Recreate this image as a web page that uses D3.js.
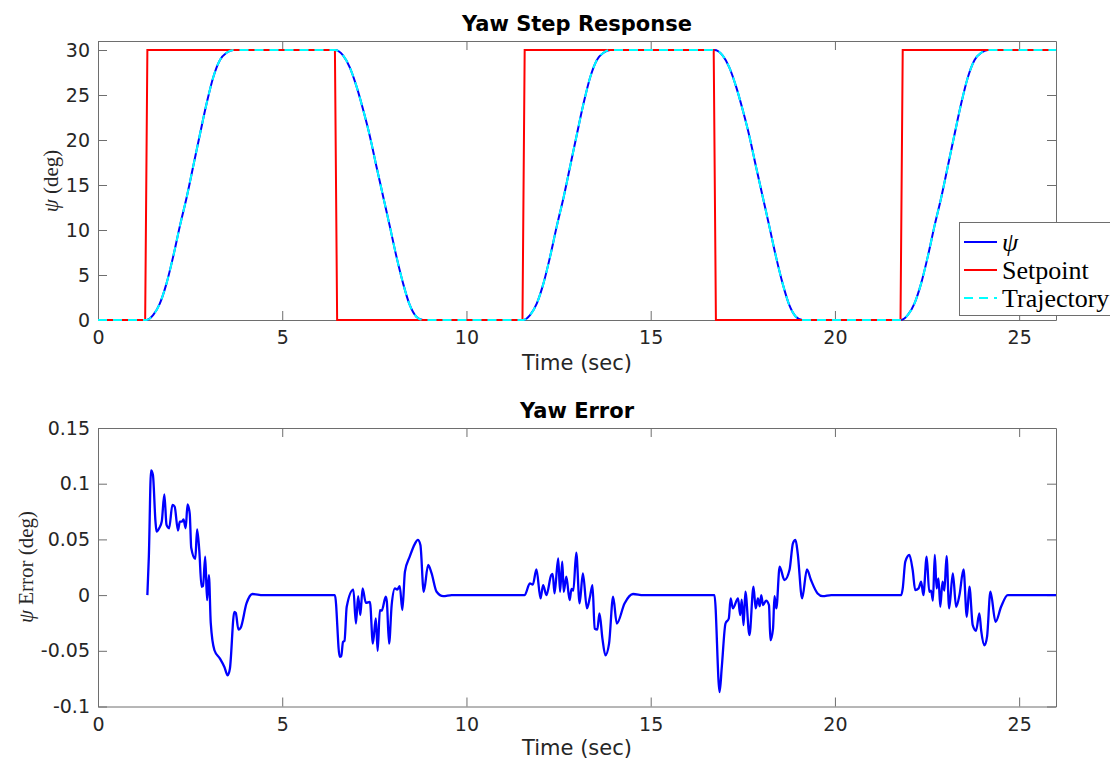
<!DOCTYPE html>
<html lang="en">
  <head>
    <meta charset="utf-8">
    <title>Yaw Step Response</title>
    <script src="https://d3js.org/d3.v7.min.js"></script>
    <style>
      body { margin: 0; background: #fff; }
    </style>
  </head>
  <body>
    <script>

    // setpoint (deg) - square steps
    var setT = [0, 1.28, 1.34, 6.43, 6.49, 11.52, 11.58, 16.71, 16.77, 21.78, 21.84, 26];
    var setV = [0, 0, 30, 30, 0, 0, 30, 30, 0, 0, 30, 30];

    // trajectory (deg)
    var trajT = [0, 1.32, 1.50, 1.68, 1.86, 2.04, 2.22, 2.41, 2.58, 2.77, 2.95, 3.13, 3.31, 3.49, 3.67,
                 6.43, 6.65, 6.83, 7.02, 7.20, 7.38, 7.56, 7.74, 7.92, 8.10, 8.28, 8.46, 8.64, 8.82,
                 11.55, 11.73, 11.91, 12.09, 12.27, 12.45, 12.64, 12.81, 13.00, 13.18, 13.36, 13.54, 13.72, 13.90,
                 16.73, 16.95, 17.13, 17.32, 17.50, 17.68, 17.86, 18.04, 18.22, 18.40, 18.58, 18.76, 18.94, 19.12,
                 21.80, 21.98, 22.16, 22.34, 22.52, 22.70, 22.89, 23.06, 23.25, 23.43, 23.61, 23.79, 23.97, 24.15, 26];
    var trajV = [0, 0, 0.56, 1.85, 4.07, 7.04, 10.4, 13.7, 17.0, 20.7, 24.1, 27.0, 28.9, 29.7, 30,
                 30, 29.4, 28.1, 25.9, 23.3, 20.4, 17.0, 13.7, 10.4, 7.04, 4.07, 1.67, 0.37, 0,
                 0, 0.56, 1.85, 4.07, 7.04, 10.4, 13.7, 17.0, 20.7, 24.1, 27.0, 28.9, 29.7, 30,
                 30, 29.4, 28.1, 25.9, 23.3, 20.4, 17.0, 13.7, 10.4, 7.04, 4.07, 1.67, 0.37, 0,
                 0, 0.56, 1.85, 4.07, 7.04, 10.4, 13.7, 17.0, 20.7, 24.1, 27.0, 28.9, 29.7, 30, 30];

    // measured yaw (deg) - sits on the trajectory at this scale
    var psiV = [0, 0, 0.56, 1.85, 4.07, 7.04, 10.4, 13.7, 17.0, 20.7, 24.1, 27.0, 28.9, 29.7, 30,
                30, 29.4, 28.1, 25.9, 23.3, 20.4, 17.0, 13.7, 10.4, 7.04, 4.07, 1.67, 0.37, 0,
                0, 0.56, 1.85, 4.07, 7.04, 10.4, 13.7, 17.0, 20.7, 24.1, 27.0, 28.9, 29.7, 30,
                30, 29.4, 28.1, 25.9, 23.3, 20.4, 17.0, 13.7, 10.4, 7.04, 4.07, 1.67, 0.37, 0,
                0, 0.56, 1.85, 4.07, 7.04, 10.4, 13.7, 17.0, 20.7, 24.1, 27.0, 28.9, 29.7, 30, 30];

    // yaw error (deg)
    var errT = [1.34, 1.38, 1.44, 1.49, 1.56, 1.59, 1.66, 1.73, 1.80, 1.86, 1.93, 2.02, 2.08, 2.17, 2.22, 2.28,
                2.32, 2.38, 2.43, 2.49, 2.53, 2.64, 2.69, 2.75, 2.81, 2.85, 2.91, 2.96, 3.01, 3.06, 3.16, 3.31,
                3.43, 3.52, 3.58, 3.70, 3.74, 3.81, 3.87, 4.03, 4.19, 4.48,
                6.43, 6.56, 6.60, 6.65, 6.69, 6.75, 6.93, 7.00, 7.06, 7.12, 7.18, 7.27, 7.38, 7.46, 7.54, 7.59,
                7.65, 7.70, 7.81, 7.84, 7.90, 7.97, 8.06, 8.12, 8.19, 8.26, 8.33, 8.46, 8.60, 8.68, 8.75, 8.84,
                8.96, 9.05, 9.19, 9.37, 9.60,
                11.58, 11.72, 11.80, 11.90, 12.01, 12.08, 12.17, 12.30, 12.34, 12.39, 12.49, 12.54, 12.60, 12.64,
                12.71, 12.80, 12.85, 12.90, 12.98, 13.07, 13.16, 13.27, 13.35, 13.42, 13.48, 13.55, 13.61, 13.69,
                13.77, 13.87, 13.98, 14.08, 14.29, 14.52, 14.80,
                16.73, 16.87, 16.93, 17.03, 17.12, 17.17, 17.23, 17.37, 17.43, 17.47, 17.52, 17.57, 17.68, 17.79,
                17.85, 17.91, 17.96, 18.00, 18.05, 18.13, 18.21, 18.25, 18.32, 18.36, 18.41, 18.50, 18.63, 18.77,
                18.86, 18.93, 18.99, 19.11, 19.24, 19.35, 19.53, 19.67, 19.90,
                21.80, 21.84, 21.91, 22.02, 22.11, 22.18, 22.27, 22.34, 22.40, 22.49, 22.56, 22.61, 22.66, 22.71,
                22.76, 22.81, 22.86, 22.92, 22.97, 23.03, 23.10, 23.20, 23.29, 23.38, 23.49, 23.58, 23.65, 23.74,
                23.83, 23.92, 23.97, 24.06, 24.13, 24.22, 24.36, 24.51, 24.69, 26];
    var errV = [0, 0.0345, 0.112, 0.108, 0.066, 0.057, 0.060, 0.066, 0.0905, 0.063, 0.060, 0.081, 0.0795, 0.058, 0.066, 0.066,
                0.068, 0.060, 0.0815, 0.073, 0.0425, 0.0325, 0.059, 0.0395, 0.0075, 0.008, 0.0345, -0.0045, 0.018, -0.025, -0.0495, -0.057,
                -0.0645, -0.072, -0.066, -0.015, -0.016, -0.031, -0.0295, -0.0075, 0.001, 0,
                0, -0.0555, -0.055, -0.042, -0.041, -0.0105, 0.005, -0.0255, -0.001, -0.018, 0.006, -0.007, -0.006, -0.0435, -0.021, -0.05,
                -0.0135, -0.014, -0.0015, -0.006, -0.0435, -0.009, 0.006, 0.005, 0.008, -0.0135, 0.021, 0.0345, 0.046, 0.0495, 0.045, 0.003,
                0.027, 0.02, 0.003, -0.001, 0,
                0, 0.0105, 0.0095, 0.023, -0.003, 0.009, 0, 0.018, 0.019, 0.0015, 0.033, 0.003, 0.030, 0.003,
                0.0165, -0.0045, 0.0055, 0.004, 0.038, -0.0075, 0.0195, -0.012, -0.002, 0.009, -0.030, -0.031, -0.0165, -0.039,
                -0.054, -0.0435, -0.0015, -0.0255, -0.0075, 0.001, 0,
                0, -0.087, -0.0645, -0.0255, -0.021, -0.003, -0.012, -0.003, -0.018, -0.004, -0.027, 0.003, -0.036, 0.0075,
                -0.012, -0.003, -0.010, 0, -0.009, -0.005, -0.009, -0.0405, -0.030, -0.001, -0.012, 0.0255, 0.0135, 0.023,
                0.0465, 0.0495, 0.0375, -0.003, 0.023, 0.0135, 0.0015, -0.001, 0,
                0, 0.006, 0.030, 0.036, 0.0225, 0.0045, 0.006, 0.012, 0, 0.0345, 0.003, 0.004, -0.005, 0.036,
                0.006, 0.015, -0.0105, 0.012, 0.004, 0.035, -0.012, 0.0195, -0.0105, 0, 0.023, -0.0195, 0.0075, -0.027,
                -0.032, -0.0165, -0.032, -0.045, -0.037, 0.003, -0.024, -0.0105, 0, 0];

    var xTicks = [0, 5, 10, 15, 20, 25];
    var yawTicks = [0, 5, 10, 15, 20, 25, 30];
    var errTicks = [-0.1, -0.05, 0, 0.05, 0.1, 0.15];
    var legendNames = ["\u03c8", "Setpoint", "Trajectory"];

    var w = 1110;
    var h = 760;
    var left = 98, right = 1056;
    var axisColor = "#6e6e6e";
    var textColor = "#262626";
    var tickLen = 9;

    var svg = d3.select("body")
      .append("svg")
      .attr("width", w)
      .attr("height", h)
      .style("font-family", "'DejaVu Sans', sans-serif");

    var xScale = d3.scaleLinear().domain([0, 26]).range([left, right]);
    var yYaw = d3.scaleLinear().domain([0, 31]).range([320, 41]);
    var yErr = d3.scaleLinear().domain([-0.1, 0.15]).range([706.5, 428]);

    var zip = function (ts, vs) { return ts.map((t, i) => [t, vs[i]]); };

    // draws a boxed matlab style axes with inward ticks
    function drawAxes(yScale, yTicks, title, titleY, xLabelY) {
      var top = yScale.range()[1], bottom = yScale.range()[0];
      var g = svg.append("g");

      g.append("g")
        .attr("transform", "translate(0," + bottom + ")")
        .call(d3.axisBottom(xScale).tickValues(xTicks).tickSizeInner(-tickLen).tickSizeOuter(0).tickPadding(11).tickFormat(d => String(d)));
      g.append("g")
        .attr("transform", "translate(0," + top + ")")
        .call(d3.axisTop(xScale).tickValues(xTicks).tickSizeInner(-tickLen).tickSizeOuter(0).tickFormat(""));
      g.append("g")
        .attr("transform", "translate(" + left + ",0)")
        .call(d3.axisLeft(yScale).tickValues(yTicks).tickSizeInner(-tickLen).tickSizeOuter(0).tickPadding(8).tickFormat(d => String(d)));
      g.append("g")
        .attr("transform", "translate(" + right + ",0)")
        .call(d3.axisRight(yScale).tickValues(yTicks).tickSizeInner(-tickLen).tickSizeOuter(0).tickFormat(""));

      g.selectAll(".domain").attr("stroke", axisColor);
      g.selectAll(".tick line").attr("stroke", axisColor);
      g.selectAll(".tick text")
        .attr("fill", textColor)
        .style("font-size", "19px")
        .style("font-family", "'DejaVu Sans', sans-serif");

      svg.append("text")
        .attr("x", (left + right) / 2)
        .attr("y", titleY)
        .attr("text-anchor", "middle")
        .attr("font-weight", "bold")
        .attr("font-size", 21)
        .attr("fill", "#000")
        .text(title);

      svg.append("text")
        .attr("x", (left + right) / 2)
        .attr("y", xLabelY)
        .attr("text-anchor", "middle")
        .attr("font-size", 21)
        .attr("fill", textColor)
        .text("Time (sec)");
    }

    drawAxes(yYaw, yawTicks, "Yaw Step Response", 31, 370);
    drawAxes(yErr, errTicks, "Yaw Error", 418, 755);

    // y labels (latex style)
    function yLabel(x, y, rest) {
      var t = svg.append("text")
        .attr("transform", "translate(" + x + "," + y + ") rotate(-90)")
        .attr("text-anchor", "middle")
        .attr("dy", "0.35em")
        .attr("font-family", "'Liberation Serif', serif")
        .attr("font-size", 21)
        .attr("fill", textColor);
      t.append("tspan").attr("font-style", "italic").text("\u03c8");
      t.append("tspan").text(rest);
    }
    yLabel(51, 181, " (deg)");
    yLabel(26, 567, " Error (deg)");

    var line = function (yScale, curve) {
      return d3.line().x(d => xScale(d[0])).y(d => yScale(d[1])).curve(curve);
    };

    // top plot: psi, setpoint, trajectory
    svg.append("path")
      .datum(zip(trajT, psiV))
      .attr("d", line(yYaw, d3.curveMonotoneX))
      .attr("fill", "none")
      .attr("stroke", "#0000ff")
      .attr("stroke-width", 2);

    svg.append("path")
      .datum(zip(setT, setV))
      .attr("d", line(yYaw, d3.curveLinear))
      .attr("fill", "none")
      .attr("stroke", "#ff0000")
      .attr("stroke-width", 2);

    svg.append("path")
      .datum(zip(trajT, trajV))
      .attr("d", line(yYaw, d3.curveMonotoneX))
      .attr("fill", "none")
      .attr("stroke", "#00ffff")
      .attr("stroke-width", 2)
      .attr("stroke-dasharray", "9,6");

    // bottom plot: error
    svg.append("path")
      .datum(zip(errT, errV))
      .attr("d", line(yErr, d3.curveMonotoneX))
      .attr("fill", "none")
      .attr("stroke", "#0000ff")
      .attr("stroke-width", 2.3)
      .attr("stroke-linejoin", "round");

    // legend
    var lg = svg.append("g").attr("transform", "translate(959,222)");
    lg.append("rect")
      .attr("x", 0.5).attr("y", 0.5)
      .attr("width", 170).attr("height", 93)
      .attr("fill", "#fff")
      .attr("stroke", axisColor);

    var legendColors = ["#0000ff", "#ff0000", "#00ffff"];
    var legendDash = [null, null, "9,6"];
    var rowY = d3.scalePoint().domain(legendNames).range([20, 76]);

    legendNames.forEach(function (name, i) {
      lg.append("line")
        .attr("x1", 5).attr("x2", 38)
        .attr("y1", rowY(name)).attr("y2", rowY(name))
        .attr("stroke", legendColors[i])
        .attr("stroke-width", 2)
        .attr("stroke-dasharray", legendDash[i]);
      lg.append("text")
        .attr("x", 43)
        .attr("y", rowY(name))
        .attr("dy", "0.33em")
        .attr("font-family", "'Liberation Serif', serif")
        .attr("font-size", 26)
        .attr("font-style", i === 0 ? "italic" : "normal")
        .attr("fill", "#000")
        .text(name);
    });

    </script>
  </body>
</html>
